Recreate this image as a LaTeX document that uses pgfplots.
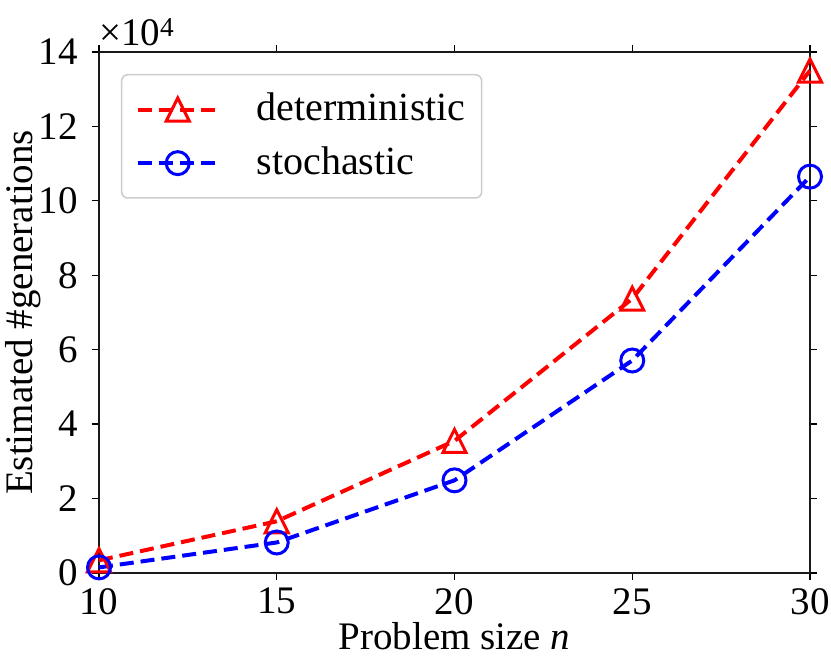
\documentclass[border=0pt]{standalone}
\usepackage{fontspec}
\setmainfont{Liberation Serif}
\usepackage{pgfplots}
\pgfplotsset{compat=1.18}
\pgfdeclareplotmark{mtri}{%
  \pgfpathmoveto{\pgfqpoint{0pt}{\pgfplotmarksize}}%
  \pgfpathlineto{\pgfqpoint{-\pgfplotmarksize}{-\pgfplotmarksize}}%
  \pgfpathlineto{\pgfqpoint{\pgfplotmarksize}{-\pgfplotmarksize}}%
  \pgfpathclose\pgfusepathqstroke}
\pgfplotstableread{
x y
10 0.34
15 1.39
20 3.55
25 7.37
30 13.50
}\det
\pgfplotstableread{
x y
10 0.15
15 0.82
20 2.49
25 5.71
30 10.65
}\sto
\begin{document}
\fontsize{39}{46}\selectfont
\begin{tikzpicture}
\useasboundingbox (-99pt,-87pt) rectangle (732pt,573pt);
\begin{axis}[
  at={(0pt,0pt)}, anchor=south west,
  scale only axis, width=711pt, height=521pt,
  xmin=10, xmax=30, ymin=0, ymax=14,
  xtick={10,15,20,25,30}, ytick={0,2,4,6,8,10,12,14},
  tick align=outside, major tick length=7pt,
  every tick/.style={line width=1.3pt, black},
  axis line style={line width=1.6pt, black!90},
  scaled ticks=false,
  /pgf/number format/assume math mode=true,
  ticklabel style={font=\fontsize{39}{46}\selectfont},
  xticklabel style={inner ysep=0pt, yshift=-8pt},
  yticklabel style={xshift=-1pt},
  clip=false,
  legend cell align=left,
  legend style={at={(22pt,499pt)}, anchor=north west,
    draw=black!20, line width=1.5pt, rounded corners=6pt,
    font=\fontsize{40}{46}\selectfont,
    inner xsep=14pt, inner ysep=16pt, row sep=16pt,
    /tikz/every even column/.append style={column sep=0pt}},
  legend image code/.code={%
    \draw[mark repeat=2,mark phase=2] plot coordinates {(0pt,0pt) (40pt,0pt) (81pt,0pt)};},
]
\addplot[red, line width=4pt, dash pattern=on 14pt off 7pt,
  mark=mtri, mark size=11.5pt, mark options={solid, line width=3pt, fill=none}]
  table[x=x,y=y] {\det};
\addlegendentry{\hspace{34pt}deterministic}
\addplot[blue, line width=4pt, dash pattern=on 14pt off 7pt,
  mark=o, mark size=11.5pt, mark options={solid, line width=3pt}]
  table[x=x,y=y] {\sto};
\addlegendentry{\hspace{34pt}stochastic}
\node[anchor=south west, inner sep=0pt] at (rel axis cs:0,1) [yshift=6pt]
  {×10\textsuperscript{4}};
\node[anchor=base, inner sep=0pt, font=\fontsize{39}{46}\selectfont]
  at (axis description cs:0.5,-0.1478) {Problem size \textit{n}};
\node[anchor=base, inner sep=0pt, rotate=90, font=\fontsize{39}{46}\selectfont]
  at (axis description cs:-0.0942,0.5) {Estimated \#generations};
\end{axis}
\end{tikzpicture}
\end{document}
